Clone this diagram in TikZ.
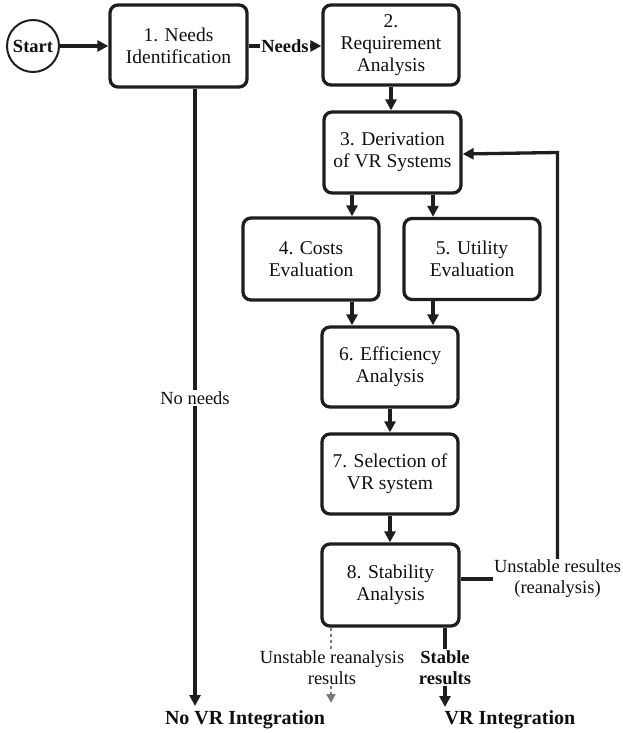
\documentclass[tikz,border=0pt]{standalone}
\usepackage{fontspec}
\setmainfont{Liberation Serif}
\usetikzlibrary{arrows.meta,calc}
\definecolor{linecol}{HTML}{1E1E1E}
\definecolor{textcol}{HTML}{101010}
\definecolor{dashcol}{HTML}{7A7A7A}
\tikzset{
  stepbox/.style={draw=linecol, line width=3.3pt, rounded corners=8pt,
    minimum width=136pt, minimum height=81pt, align=center, inner sep=2pt,
    font=\fontsize{19.5}{22}\selectfont, text=textcol},
  startnode/.style={draw=linecol, line width=2pt, circle, minimum size=52pt,
    inner sep=0pt, font=\bfseries\fontsize{18.5}{21}\selectfont, text=textcol},
  conn/.style={draw=linecol, line width=3.3pt},
  arr/.style={conn, -{Triangle[length=11pt,width=11pt]}},
  darr/.style={draw=dashcol, line width=2.6pt, dash pattern=on 3pt off 3pt,
    -{Triangle[length=9pt,width=9pt]}},
  dline/.style={draw=dashcol, line width=2.6pt, dash pattern=on 3pt off 3pt},
  lbl/.style={font=\fontsize{18.5}{21}\selectfont, align=center, inner sep=1pt, text=textcol},
  blbl/.style={font=\bfseries\fontsize{18.5}{21}\selectfont, align=center, inner sep=1pt, text=textcol},
  endlbl/.style={font=\bfseries\fontsize{20}{22}\selectfont, inner sep=1pt, text=textcol},
}
\begin{document}
\begin{tikzpicture}[x=1pt,y=-1pt]
\useasboundingbox (0,0) rectangle (623,733);

% nodes
\node[startnode] (start) at (33,46) {Start};
\node[stepbox, minimum width=137pt, minimum height=82pt] (b1) at (178.5,46) {1. Needs\\Identification};
\node[stepbox, minimum height=80pt] (b2) at (391,45) {2.\\Requirement\\Analysis};
\node[stepbox, minimum width=137pt] (b3) at (392.5,152.5) {3. Derivation\\of VR Systems};
\node[stepbox, minimum height=82pt] (b4) at (311,259) {4. Costs\\Evaluation};
\node[stepbox] (b5) at (472,259) {5. Utility\\Evaluation};
\node[stepbox, minimum height=80pt] (b6) at (390,367) {6. Efficiency\\Analysis};
\node[stepbox, minimum height=80pt] (b7) at (390,474) {7. Selection of\\VR system};
\node[stepbox, minimum width=137pt, minimum height=82pt] (b8) at (390.5,585) {8. Stability\\Analysis};

% labels
\node[blbl] (needs) at (285,46) {Needs};
\node[lbl] (noneeds) at (195,398) {No needs};
\node[lbl] (unstre) at (557.5,579) {Unstable resultes\\(reanalysis)};
\node[lbl] (unstrea) at (332,667.5) {Unstable reanalysis\\results};
\node[blbl] (stable) at (445,667.5) {Stable\\results};
\node[endlbl] (novr) at (245,720) {No VR Integration};
\node[endlbl] (vr) at (510,720) {VR Integration};

\coordinate (novrend) at (195,706);
\coordinate (vrend) at (445,707);
\coordinate (dashend) at (331,703);
\coordinate (xl) at (352,0);
\coordinate (xr) at (433,0);

% connectors
\draw[arr] (start.east) -- (b1.west |- start.east);
\draw[conn] (b1.east |- needs.west) -- (needs.west);
\draw[arr] (needs.east) -- (b2.west |- needs.east);
\draw[arr] (b2.south) -- (b3.north -| b2.south);
\draw[arr] (b3.south -| xl) -- (b4.north -| xl);
\draw[arr] (b3.south -| xr) -- (b5.north -| xr);
\draw[arr] (b4.south -| xl) -- (b6.north -| xl);
\draw[arr] (b5.south -| xr) -- (b6.north -| xr);
\draw[arr] (b6.south) -- (b7.north);
\draw[arr] (b7.south) -- (b8.north -| b7.south);

% no needs branch
\draw[conn] (b1.south -| noneeds.north) -- (noneeds.north);
\draw[arr] (noneeds.south) -- (novrend);

% feedback loop
\draw[conn] (b8.east |- unstre.west) -- (unstre.west);
\draw[arr] (unstre.north) -- (unstre.north |- b3.east) -- ([yshift=-1.5pt]b3.east);

% dashed unstable branch
\draw[dline] (b8.south -| dashend) -- (unstrea.north -| dashend);
\draw[darr] (unstrea.south -| dashend) -- (dashend);

% stable branch
\draw[conn] (b8.south -| stable.north) -- (stable.north);
\draw[arr] (stable.south) -- (vrend);
\end{tikzpicture}
\end{document}
